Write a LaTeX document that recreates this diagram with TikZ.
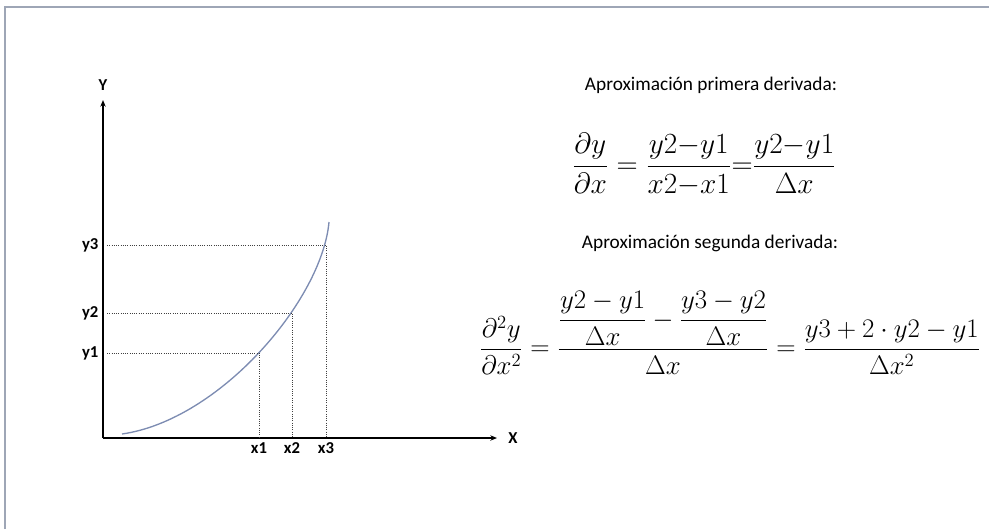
\documentclass[tikz,border=0pt]{standalone}
\usepackage{amsmath}
\usepackage{fontspec}
\setsansfont{Carlito}
\usetikzlibrary{arrows.meta}
\definecolor{curveblue}{RGB}{125,140,178}
\definecolor{framegray}{RGB}{158,166,182}

\begin{document}
\begin{tikzpicture}[x=0.75pt, y=-0.75pt,
  axis/.style={line width=1.3pt, -{Stealth[length=5pt,width=4pt]}},
  guide/.style={densely dotted, black!75, line width=0.7pt},
  ticklabel/.style={font=\sffamily\bfseries\fontsize{12.5}{14}\selectfont, inner sep=1pt},
  caption/.style={font=\sffamily\fontsize{14.5}{17}\selectfont},
  formula/.style={font=\fontsize{20.74}{25}\selectfont, transform shape}]
  \useasboundingbox (0,0) rectangle (989,529);
  % frame
  \draw[framegray, line width=1.5pt] (5,529) -- (5,7) -- (989,7);
  % axes
  \coordinate (O) at (103,438);
  \coordinate (xend) at (497,438);
  \coordinate (yend) at (103,100);
  \draw[axis] (O) -- (xend);
  \draw[axis] (O) -- (yend);
  \node[ticklabel] (xname) at (513,438) {X};
  \node[ticklabel] (yname) at (103,85) {Y};
  % curve y(x)
  \coordinate (cstart) at (122,434);
  \coordinate (cend) at (329,222);
  \draw[curveblue, line width=1pt] (cstart) .. controls (220,420) and (322,300) .. (cend);
  % sample points with guide lines
  \foreach \i/\px/\py in {1/259/353, 2/292/313, 3/326/245} {
    \coordinate (P\i) at (\px,\py);
    \coordinate (Y\i) at (107,\py);
    \coordinate (X\i) at (\px,438);
    \draw[guide] (Y\i) -- (P\i) -- (X\i);
    \node[ticklabel, anchor=east] (ylab\i) at (100,\py) {y\i};
    \node[ticklabel] (xlab\i) at (\px,448) {x\i};
  }
  % formulas
  \node[caption] (primera) at (711,85) {Aproximación primera derivada:};
  \node[formula, scale=1.06] (firsteq) at (704,165) {$\displaystyle \frac{\partial y}{\partial x} = \frac{y2{-}y1}{x2{-}x1} {=} \frac{y2{-}y1}{\Delta x}$};
  \node[caption] (segunda) at (710,243) {Aproximación segunda derivada:};
  \node[formula, scale=0.97] (secondeq) at (730,333) {$\displaystyle \frac{\partial^2 y}{\partial x^2} = \frac{\displaystyle\frac{y2-y1}{\Delta x} - \frac{y3-y2}{\Delta x}}{\Delta x} = \frac{y3+2\cdot y2-y1}{\Delta x^2}$};
\end{tikzpicture}
\end{document}
